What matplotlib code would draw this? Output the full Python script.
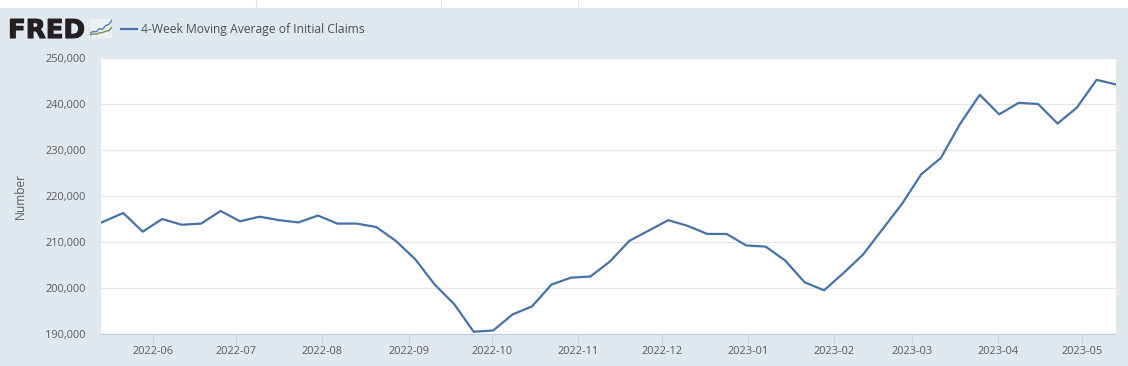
import matplotlib
matplotlib.use('Agg')
import matplotlib.pyplot as plt
from matplotlib.lines import Line2D
from matplotlib.patches import Rectangle
import matplotlib.patheffects as pe
import pandas as pd

dates = pd.date_range('2022-05-21', '2023-05-13', freq='7D').insert(0, pd.Timestamp('2022-05-13'))
claims = [214200, 216300, 212250, 215000, 213750, 214000, 216750, 214500, 215500,
          214750, 214250, 215750, 214000, 214000, 213250, 210250, 206250, 200750,
          196500, 190500, 190750, 194250, 196000, 200750, 202250, 202500, 205750,
          210250, 212500, 214750, 213500, 211750, 211750, 209250, 209000, 206000,
          201250, 199500, 203250, 207250, 212750, 218250, 224750, 228250, 235750,
          242000, 237750, 240250, 240000, 235750, 239250, 245250, 244250]

# month ticks sit a few hours before midnight on the reference
month_ticks = pd.date_range('2022-06-01', '2023-05-01', freq='MS') - pd.Timedelta(hours=9)
month_labels = ['2022-06', '2022-07', '2022-08', '2022-09', '2022-10', '2022-11',
                '2022-12', '2023-01', '2023-02', '2023-03', '2023-04', '2023-05']
y_ticks = [190000, 200000, 210000, 220000, 230000, 240000, 250000]
series_name = '4-Week Moving Average of Initial Claims'

logo_x = [0, 1, 2, 3, 4, 5, 6, 7]
logo_blue = [1.8, 2.4, 2.3, 3.5, 3.2, 4.6, 5.0, 6.6]
logo_green = [1.1, 1.5, 1.4, 1.9, 2.0, 2.5, 2.7, 4.0]

W, H = 1128, 366
bg = '#e1e9f0'
line_col = '#4572a7'
text_col = '#5a5a5a'
tick_size = 7.9
plt.rcParams['font.family'] = ['Open Sans', 'DejaVu Sans']

fig = plt.figure(figsize=(W / 100, H / 100), dpi=100, facecolor=bg)

# white strip at the top of the screenshot
fig.add_artist(Rectangle((0, 1 - 8 / H), 1, 8 / H, transform=fig.transFigure,
                         facecolor='white', edgecolor='none'))
for px in [256, 441, 578]:
    fig.add_artist(Line2D([px / W, px / W], [1 - 8 / H, 1], transform=fig.transFigure,
                          color='#dfe6ee', lw=0.8))

ax = fig.add_axes([101 / W, 1 - 334 / H, (1116 - 101) / W, (334 - 58) / H])
ax.set_facecolor('white')
ax.plot(dates, claims, color=line_col, lw=1.6, solid_joinstyle='round', zorder=3)
ax.set_xlim(dates[0], dates[-1])
ax.set_ylim(190000, 250000)

ax.set_yticks(y_ticks)
ax.set_yticklabels([f'{v:,}' for v in y_ticks])
ax.set_xticks(month_ticks)
ax.set_xticklabels(month_labels)
ax.grid(axis='y', color='#e6e6e6', lw=0.9)
ax.set_axisbelow(True)
for name in ['top', 'right', 'left']:
    ax.spines[name].set_visible(False)
ax.spines['bottom'].set_color('#c0d0e0')
ax.spines['bottom'].set_linewidth(0.9)
ax.tick_params(axis='y', length=0, pad=10.8, labelsize=tick_size, labelcolor=text_col)
ax.tick_params(axis='x', length=7.2, width=0.8, color='#c8d6e4', pad=1.5,
               labelsize=tick_size, labelcolor=text_col)

fig.text(20 / W, 1 - 196 / H, 'Number', rotation=90, ha='center', va='center',
         fontsize=8.6, color=text_col)

# header: logo and legend
fig.text(8 / W, 1 - 38 / H, 'FRED', ha='left', va='baseline', fontsize=18.7,
         fontweight='bold', family=['DejaVu Sans'], color='#231f20',
         path_effects=[pe.withStroke(linewidth=0.8, foreground='#231f20')])
logo = fig.add_axes([90 / W, 1 - 38 / H, 22 / W, 19 / H], facecolor='#eef1f4')
logo.plot(logo_x, logo_blue, color='#5b86b5', lw=1.1)
logo.plot(logo_x, logo_green, color='#84955f', lw=1.1)
logo.set_xlim(0, 7)
logo.set_ylim(0, 7)
logo.set_xticks([])
logo.set_yticks([])
for s in logo.spines.values():
    s.set_visible(False)

fig.add_artist(Line2D([121 / W, 137 / W], [1 - 29 / H, 1 - 29 / H], transform=fig.transFigure,
                      color=line_col, lw=1.6))
fig.text(141 / W, 1 - 29 / H, series_name, ha='left', va='center', fontsize=8.7,
         color='#4a4f57')

fig.savefig('out.png', dpi=100, facecolor=fig.get_facecolor())
